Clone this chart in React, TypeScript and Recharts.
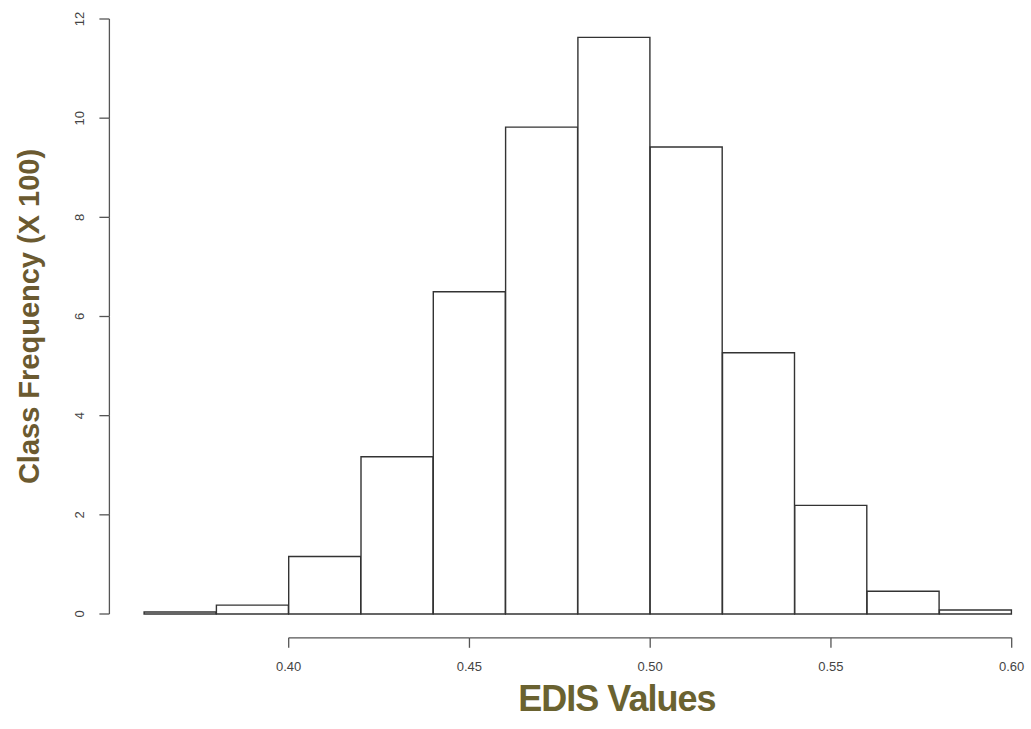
import { Bar, BarChart, Label, XAxis, YAxis } from "recharts";

// histogram of EDIS values, bins of 0.02
const binEdges = [0.36, 0.38, 0.4, 0.42, 0.44, 0.46, 0.48, 0.5, 0.52, 0.54, 0.56, 0.58, 0.6];
const frequencies = [0.04, 0.18, 1.16, 3.17, 6.5, 9.82, 11.63, 9.42, 5.27, 2.19, 0.46, 0.08];
const xTicks = [0.4, 0.45, 0.5, 0.55, 0.6];
const yTicks = [0, 2, 4, 6, 8, 10, 12];
const xTickLabels = ["0.40", "0.45", "0.50", "0.55", "0.60"];

const data = frequencies.map((freq, i) => ({
  mid: (binEdges[i] + binEdges[i + 1]) / 2,
  freq,
}));

// R-style plot region, extended 4% past the data range
const X_DOMAIN: [number, number] = [0.3504, 0.6096];
const Y_DOMAIN: [number, number] = [-0.48, 12.48];

const CHART_W = 1080;
const CHART_H = 760;
const MARGIN = { top: 15.2, left: 49.4, right: 33.6, bottom: 42.2 };
const Y_AXIS_W = 60;
const X_AXIS_H = 60;

const PLOT_W = CHART_W - MARGIN.left - MARGIN.right - Y_AXIS_W;
const PLOT_H = CHART_H - MARGIN.top - MARGIN.bottom - X_AXIS_H;
const PX_X = PLOT_W / (X_DOMAIN[1] - X_DOMAIN[0]);
const PX_Y = PLOT_H / (Y_DOMAIN[1] - Y_DOMAIN[0]);

const axisColor = "#555";
const font = "'Liberation Sans', Arial, sans-serif";

const XTick = (props: any) => {
  const { x, y, index } = props;
  const step = (xTicks[1] - xTicks[0]) * PX_X;
  return (
    <g>
      {index > 0 && <line x1={x - step} y1={y} x2={x} y2={y} stroke={axisColor} strokeWidth={1.3} />}
      <line x1={x} y1={y} x2={x} y2={y + 10} stroke={axisColor} strokeWidth={1.3} />
      <text x={x} y={y + 33} textAnchor="middle" fontSize={13} fill="#444" fontFamily={font}>
        {xTickLabels[index]}
      </text>
    </g>
  );
};

const YTick = (props: any) => {
  const { x, y, index, payload } = props;
  const step = (yTicks[1] - yTicks[0]) * PX_Y;
  const tx = x - 25;
  return (
    <g>
      {index > 0 && <line x1={x} y1={y} x2={x} y2={y + step} stroke={axisColor} strokeWidth={1.3} />}
      <line x1={x} y1={y} x2={x - 10} y2={y} stroke={axisColor} strokeWidth={1.3} />
      <text
        x={tx}
        y={y}
        transform={`rotate(-90 ${tx} ${y})`}
        textAnchor="middle"
        fontSize={13}
        fill="#444"
        fontFamily={font}
      >
        {payload.value}
      </text>
    </g>
  );
};

export default function App() {
  return (
    <div
      style={{
        position: "absolute",
        left: 0,
        top: 0,
        width: 1031,
        height: 729,
        overflow: "hidden",
        background: "#fff",
      }}
    >
      <div style={{ position: "absolute", left: 0, top: -20 }}>
        <BarChart width={CHART_W} height={CHART_H} data={data} margin={MARGIN} barCategoryGap={0} barGap={0}>
          <XAxis
            dataKey="mid"
            type="number"
            domain={X_DOMAIN}
            allowDataOverflow
            ticks={xTicks}
            interval={0}
            height={X_AXIS_H}
            axisLine={false}
            tickLine={false}
            tickSize={0}
            tickMargin={0}
            tick={<XTick />}
          >
            <Label
              content={(p: any) => {
                const vb = p.viewBox;
                return (
                  <text
                    x={vb.x + vb.width / 2 + 39}
                    y={vb.y + 61}
                    textAnchor="middle"
                    dominantBaseline="central"
                    fontSize={36}
                    fontWeight="bold"
                    letterSpacing={-1}
                    fill="#6a6230"
                    fontFamily={font}
                  >
                    EDIS Values
                  </text>
                );
              }}
            />
          </XAxis>
          <YAxis
            type="number"
            domain={Y_DOMAIN}
            allowDataOverflow
            ticks={yTicks}
            interval={0}
            width={Y_AXIS_W}
            axisLine={false}
            tickLine={false}
            tickSize={0}
            tickMargin={0}
            tick={<YTick />}
          >
            <Label
              content={(p: any) => {
                const vb = p.viewBox;
                const cx = vb.x - 20;
                const cy = vb.y + vb.height / 2;
                return (
                  <text
                    x={cx}
                    y={cy}
                    transform={`rotate(-90 ${cx} ${cy})`}
                    textAnchor="middle"
                    dominantBaseline="central"
                    fontSize={29}
                    fontWeight="bold"
                    fill="#6b5a30"
                    fontFamily={font}
                  >
                    Class Frequency (X 100)
                  </text>
                );
              }}
            />
          </YAxis>
          <Bar dataKey="freq" fill="#fff" stroke="#333" strokeWidth={1.4} isAnimationActive={false} />
        </BarChart>
      </div>
    </div>
  );
}
